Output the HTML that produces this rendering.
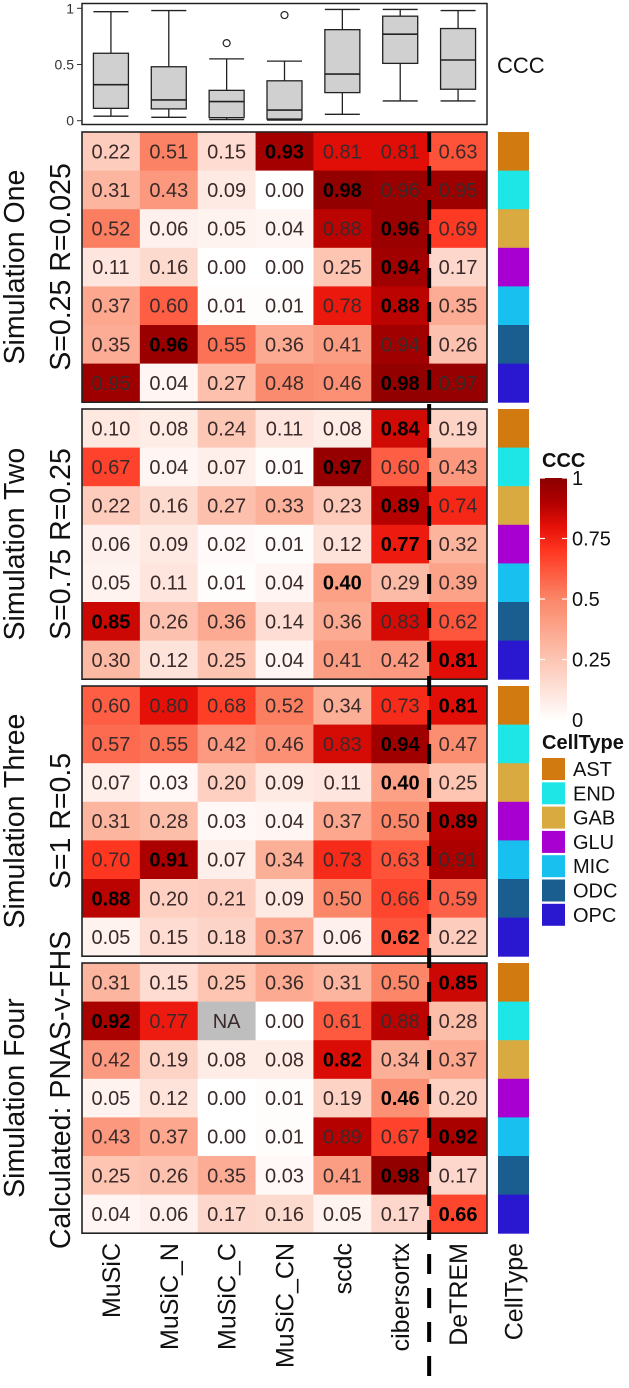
<!DOCTYPE html>
<html><head><meta charset="utf-8"><style>
html,body{margin:0;padding:0;background:#fff}
svg{display:block;font-family:"Liberation Sans",sans-serif}
</style></head><body>
<svg id="chart" width="629" height="1388" viewBox="0 0 629 1388" xmlns="http://www.w3.org/2000/svg"></svg>
<script>
const methods = ["MuSiC","MuSiC_N","MuSiC_C","MuSiC_CN","scdc","cibersortx","DeTREM"];
const cellTypes = ["AST","END","GAB","GLU","MIC","ODC","OPC"];
const cellColors = ["#d07a10","#1ee6e6","#d8aa40","#a800d0","#18c0f0","#1a5e90","#2a18d0"];
const panelTitles = ["Simulation One","Simulation Two","Simulation Three","Simulation Four"];
const panelSubtitles = ["S=0.25 R=0.025","S=0.75 R=0.25","S=1 R=0.5","Calculated: PNAS-v-FHS"];
const sim1 = [
[0.22,0.51,0.15,0.93,0.81,0.81,0.63],
[0.31,0.43,0.09,0.00,0.98,0.96,0.95],
[0.52,0.06,0.05,0.04,0.88,0.96,0.69],
[0.11,0.16,0.00,0.00,0.25,0.94,0.17],
[0.37,0.60,0.01,0.01,0.78,0.88,0.35],
[0.35,0.96,0.55,0.36,0.41,0.94,0.26],
[0.95,0.04,0.27,0.48,0.46,0.98,0.97]];
const sim2 = [
[0.10,0.08,0.24,0.11,0.08,0.84,0.19],
[0.67,0.04,0.07,0.01,0.97,0.60,0.43],
[0.22,0.16,0.27,0.33,0.23,0.89,0.74],
[0.06,0.09,0.02,0.01,0.12,0.77,0.32],
[0.05,0.11,0.01,0.04,0.40,0.29,0.39],
[0.85,0.26,0.36,0.14,0.36,0.83,0.62],
[0.30,0.12,0.25,0.04,0.41,0.42,0.81]];
const sim3 = [
[0.60,0.80,0.68,0.52,0.34,0.73,0.81],
[0.57,0.55,0.42,0.46,0.83,0.94,0.47],
[0.07,0.03,0.20,0.09,0.11,0.40,0.25],
[0.31,0.28,0.03,0.04,0.37,0.50,0.89],
[0.70,0.91,0.07,0.34,0.73,0.63,0.91],
[0.88,0.20,0.21,0.09,0.50,0.66,0.59],
[0.05,0.15,0.18,0.37,0.06,0.62,0.22]];
const sim4 = [
[0.31,0.15,0.25,0.36,0.31,0.50,0.85],
[0.92,0.77,null,0.00,0.61,0.88,0.28],
[0.42,0.19,0.08,0.08,0.82,0.34,0.37],
[0.05,0.12,0.00,0.01,0.19,0.46,0.20],
[0.43,0.37,0.00,0.01,0.89,0.67,0.92],
[0.25,0.26,0.35,0.03,0.41,0.98,0.17],
[0.04,0.06,0.17,0.16,0.05,0.17,0.66]];
const boxLow = [0.04,0.03,0.01,0.005,0.057,0.176,0.176];
const boxQ1 = [0.11,0.105,0.027,0.015,0.25,0.51,0.28];
const boxMed = [0.32,0.185,0.17,0.095,0.415,0.77,0.54];
const boxQ3 = [0.60,0.48,0.27,0.355,0.81,0.93,0.82];
const boxHigh = [0.97,0.98,0.55,0.53,0.99,0.99,0.98];
const boxOutliers = [[],[],[0.69],[0.94],[],[],[]];
const boxTicks = [0,0.5,1];
const boxTickLabels = ["0","0.5","1"];
const legendTicks = [0,0.25,0.5,0.75,1];
const legendTickLabels = ["0","0.25","0.5","0.75","1"];

const NS="http://www.w3.org/2000/svg";
const svg=document.getElementById('chart');
function mk(tag,attrs,parent){const e=document.createElementNS(NS,tag);for(const k in attrs)e.setAttribute(k,attrs[k]);(parent||svg).appendChild(e);return e;}
const X0=82, COLW=(487-82)/7, ROWH=38.6;
const panelTops=[132,409,686,963];
const xCol=i=>X0+COLW*i;
const yBox=v=>120.7-v*112.4;
const stops=[[0,[255,255,255]],[0.3,[252,185,163]],[0.5,[251,134,104]],[0.7,[255,54,32]],[0.8,[229,16,8]],[0.9,[176,0,0]],[1,[139,0,0]]];
function col(v){for(let i=1;i<stops.length;i++){if(v<=stops[i][0]){const a=stops[i-1],b=stops[i],t=(v-a[0])/(b[0]-a[0]);return 'rgb('+a[1].map((c,k)=>Math.round(c+(b[1][k]-c)*t)).join(',')+')';}}return 'rgb(139,0,0)';}

// Box plot panel
const bp=mk('rect',{x:82,y:3.5,width:405,height:121,fill:'none',stroke:'#222','stroke-width':1.5});


boxTicks.forEach((t,i)=>{
 const tk=mk('line',{x1:77,x2:82,y1:yBox(t),y2:yBox(t),stroke:'#333','stroke-width':1});
 
 
 const tl=mk('text',{x:74,y:yBox(t)+5,'text-anchor':'end','font-size':14,fill:'#333'});tl.textContent=boxTickLabels[i];
 
 
});
methods.forEach((m,i)=>{
 const cx=xCol(i)+COLW/2, w=35;
 const g=mk('g',{});
 
 
 mk('line',{x1:cx,x2:cx,y1:yBox(boxHigh[i]),y2:yBox(boxQ3[i]),stroke:'#222','stroke-width':1.3},g);
 mk('line',{x1:cx,x2:cx,y1:yBox(boxQ1[i]),y2:yBox(boxLow[i]),stroke:'#222','stroke-width':1.3},g);
 mk('line',{x1:cx-w/2,x2:cx+w/2,y1:yBox(boxHigh[i]),y2:yBox(boxHigh[i]),stroke:'#222','stroke-width':1.3},g);
 mk('line',{x1:cx-w/2,x2:cx+w/2,y1:yBox(boxLow[i]),y2:yBox(boxLow[i]),stroke:'#222','stroke-width':1.3},g);
 mk('rect',{x:cx-w/2,y:yBox(boxQ3[i]),width:w,height:yBox(boxQ1[i])-yBox(boxQ3[i]),fill:'#d0d0d0',stroke:'#222','stroke-width':1.3},g);
 mk('line',{x1:cx-w/2,x2:cx+w/2,y1:yBox(boxMed[i]),y2:yBox(boxMed[i]),stroke:'#222','stroke-width':1.6},g);
 boxOutliers[i].forEach(o=>mk('circle',{cx:cx,cy:yBox(o),r:3.5,fill:'none',stroke:'#222','stroke-width':1.2},g));
});
const ccc=mk('text',{x:497,y:73,'font-size':22,fill:'#111'});ccc.textContent='CCC';



// Heatmap panels
const sims=[sim1,sim2,sim3,sim4];
const subCenters=[267,544,821,1090];
sims.forEach((data,p)=>{
 const top=panelTops[p];
 const g=mk('g',{});
 
 
 data.forEach((row,r)=>{
  let mx=-1,mi=-1;row.forEach((v,c)=>{if(v!==null&&v>mx){mx=v;mi=c;}});
  row.forEach((v,c)=>{
   const x=xCol(c),y=top+r*ROWH;
   const cell=mk('rect',{x:x,y:y,width:COLW+0.5,height:ROWH+0.5,fill:v===null?'#bebebe':col(v)},g);
   
   
   const t=mk('text',{x:x+COLW/2,y:y+ROWH/2+7,'text-anchor':'middle','font-size':20,fill:(c===mi)?'#000':'#3a2a2a','font-weight':(c===mi)?'bold':'normal'},g);
   t.textContent=v===null?'NA':v.toFixed(2);
   
   
  });
  const ct=mk('rect',{x:498,y:top+r*ROWH,width:31,height:ROWH+0.5,fill:cellColors[r]});
  
  
 });
 const b=mk('rect',{x:82,y:top,width:405,height:7*ROWH,fill:'none',stroke:'#222','stroke-width':1.6},g);
 
 
 const pc=top+3.5*ROWH;
 const t1=mk('text',{transform:'translate(24,'+pc+') rotate(-90)','text-anchor':'middle','font-size':28.5,fill:'#111'});t1.textContent=panelTitles[p];
 
 
 const t2=mk('text',{transform:'translate(70,'+subCenters[p]+') rotate(-90)','text-anchor':'middle','font-size':28.5,fill:'#111'});t2.textContent=panelSubtitles[p];
 
 
});
const dl=mk('line',{x1:xCol(6),x2:xCol(6),y1:132,y2:1388,stroke:'#000','stroke-width':4,'stroke-dasharray':'20 14'});



// x labels
methods.concat(['CellType']).forEach((m,i)=>{
 const cx=i<7?xCol(i)+COLW/2:513.5;
 const t=mk('text',{transform:'translate('+(cx+9)+',1243) rotate(-90)','text-anchor':'end','font-size':25,fill:'#111'});t.textContent=m;
 
 
});

// CCC legend
const defs=mk('defs',{});
const lg=mk('linearGradient',{id:'lg',x1:0,y1:1,x2:0,y2:0},defs);
stops.forEach(s=>mk('stop',{offset:s[0],'stop-color':'rgb('+s[1].join(',')+')'},lg));
const yLeg=v=>720-v*242;
const lt=mk('text',{x:542,y:467,'font-size':20,'font-weight':'bold',fill:'#111'});lt.textContent='CCC';


const bar=mk('rect',{x:540,y:yLeg(1),width:27,height:242,fill:'url(#lg)'});


legendTicks.forEach((t,i)=>{
 mk('line',{x1:540,x2:545,y1:yLeg(t),y2:yLeg(t),stroke:'#fff','stroke-width':1.2});
 mk('line',{x1:562,x2:567,y1:yLeg(t),y2:yLeg(t),stroke:'#fff','stroke-width':1.2});
 const l=mk('text',{x:572,y:yLeg(t)+7,'font-size':20,fill:'#111'});l.textContent=legendTickLabels[i];
 
 
});
const ctt=mk('text',{x:542,y:749,'font-size':20,'font-weight':'bold',fill:'#111'});ctt.textContent='CellType';


cellTypes.forEach((c,i)=>{
 const y=758+i*24.3;
 const k=mk('rect',{x:542,y:y,width:23,height:22,fill:cellColors[i]});
 
 
 const l=mk('text',{x:573,y:y+18,'font-size':20,fill:'#111'});l.textContent=c;
 
 
});
</script>
</body></html>
